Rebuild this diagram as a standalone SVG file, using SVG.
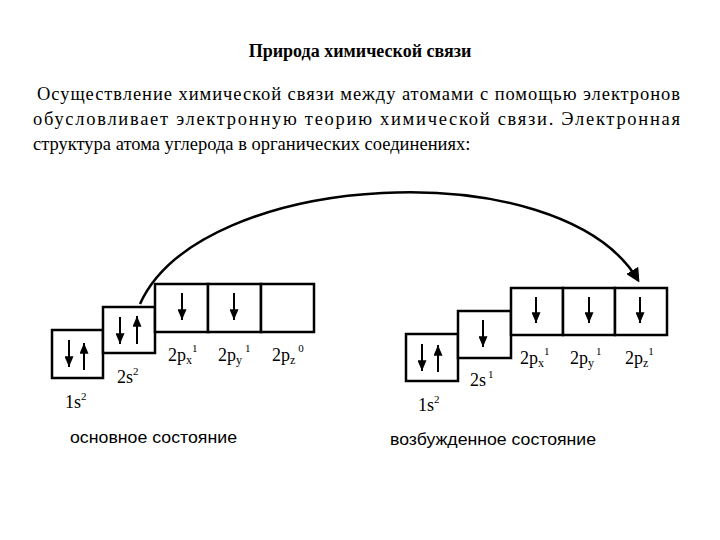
<svg xmlns="http://www.w3.org/2000/svg" width="720" height="540" viewBox="0 0 720 540">
<style>
.t{font-family:"Liberation Serif","Times New Roman",serif;fill:#000}
.b{fill:#fff;stroke:#000;stroke-width:2.5}
.a{stroke:#000;stroke-width:2.5;fill:none}
.l{font-family:"Liberation Serif","Times New Roman",serif;font-size:18px;fill:#000}
.s{font-size:11px}
.c{font-family:"Liberation Sans",sans-serif;font-size:17px;fill:#000}
</style>
<defs>
<marker id="ad" viewBox="0 0 12 10" refX="12" refY="5" markerWidth="12" markerHeight="9" orient="auto" markerUnits="userSpaceOnUse"><path d="M0,0L12,5L0,10z" fill="#000"/></marker>
<marker id="ah" viewBox="0 0 10 10" refX="8" refY="5" markerWidth="14" markerHeight="14" orient="auto" markerUnits="userSpaceOnUse"><path d="M0,0L10,5L0,10z" fill="#000"/></marker>
</defs>
<rect width="720" height="540" fill="#fff"/>
<text class="t" x="360" y="57" font-size="18" font-weight="bold" text-anchor="middle">Природа химической связи</text>
<text class="t" font-size="18.5"><tspan x="37" y="100" textLength="643" lengthAdjust="spacing">Осуществление химической связи между атомами с помощью электронов</tspan><tspan x="33" y="125" textLength="647" lengthAdjust="spacing">обусловливает электронную теорию химической связи. Электронная</tspan><tspan x="33" y="150">структура атома углерода в органических соединениях:</tspan></text>
<g id="connectors">
<path class="a" d="M140,304 C200,170 560,150 638,280" marker-end="url(#ah)"/>
</g>
<g id="ground">
<rect class="b" x="52" y="330" width="51" height="48"/>
<rect class="b" x="103" y="307" width="52" height="46"/>
<rect class="b" x="155" y="284" width="53" height="48"/>
<rect class="b" x="208" y="284" width="53" height="48"/>
<rect class="b" x="261" y="284" width="53" height="48"/>
<g stroke="#000" stroke-width="2">
<line x1="69" y1="340" x2="69" y2="367" marker-end="url(#ad)"/>
<line x1="84" y1="370" x2="84" y2="343" marker-end="url(#ad)"/>
<line x1="120" y1="317" x2="120" y2="344" marker-end="url(#ad)"/>
<line x1="137" y1="344" x2="137" y2="316" marker-end="url(#ad)"/>
<line x1="182" y1="293" x2="182" y2="320" marker-end="url(#ad)"/>
<line x1="234" y1="293" x2="234" y2="320" marker-end="url(#ad)"/>
</g>
<text class="l" x="117" y="383">2s<tspan class="s" dy="-8">2</tspan></text>
<text class="l" x="168" y="361">2p<tspan font-size="12" dy="3">x</tspan><tspan class="s" dy="-12">1</tspan></text>
<text class="l" x="218" y="361">2p<tspan font-size="12" dy="3">y</tspan><tspan class="s" dy="-12" dx="3">1</tspan></text>
<text class="l" x="272" y="361">2p<tspan font-size="12" dy="3">z</tspan><tspan class="s" dy="-12" dx="3">0</tspan></text>
<text class="l" x="65" y="408">1s<tspan class="s" dy="-8">2</tspan></text>
<text class="c" x="70" y="443" textLength="167" lengthAdjust="spacingAndGlyphs">основное состояние</text>
</g>
<g id="excited">
<rect class="b" x="406" y="334" width="52" height="47"/>
<rect class="b" x="458" y="311" width="53" height="47"/>
<rect class="b" x="511" y="288" width="52" height="47"/>
<rect class="b" x="563" y="288" width="52" height="47"/>
<rect class="b" x="615" y="288" width="52" height="47"/>
<g stroke="#000" stroke-width="2">
<line x1="422" y1="344" x2="422" y2="371" marker-end="url(#ad)"/>
<line x1="438" y1="372" x2="438" y2="345" marker-end="url(#ad)"/>
<line x1="483" y1="320" x2="483" y2="347" marker-end="url(#ad)"/>
<line x1="536" y1="297" x2="536" y2="323" marker-end="url(#ad)"/>
<line x1="589" y1="297" x2="589" y2="323" marker-end="url(#ad)"/>
<line x1="640" y1="297" x2="640" y2="323" marker-end="url(#ad)"/>
</g>
<text class="l" x="470" y="386">2s<tspan class="s" dy="-8" dx="2">1</tspan></text>
<text class="l" x="520" y="364">2p<tspan font-size="12" dy="3">x</tspan><tspan class="s" dy="-12">1</tspan></text>
<text class="l" x="570" y="364">2p<tspan font-size="12" dy="3">y</tspan><tspan class="s" dy="-12" dx="2">1</tspan></text>
<text class="l" x="625" y="364">2p<tspan font-size="12" dy="3">z</tspan><tspan class="s" dy="-12">1</tspan></text>
<text class="l" x="418" y="411">1s<tspan class="s" dy="-8">2</tspan></text>
<text class="c" x="390" y="445" textLength="206" lengthAdjust="spacingAndGlyphs">возбужденное состояние</text>
</g>
</svg>
